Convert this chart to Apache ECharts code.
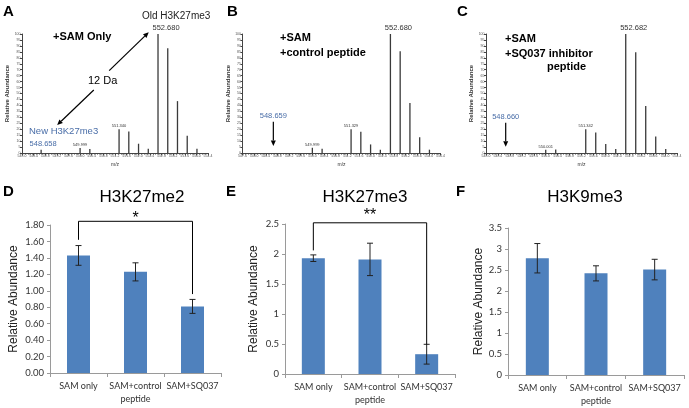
<!DOCTYPE html>
<html>
<head>
<meta charset="utf-8">
<style>html,body{margin:0;padding:0;background:#fff}</style>
</head>
<body>
<div id="chart" style="width:689px;height:408px"></div>
<script src="https://cdn.jsdelivr.net/npm/echarts/dist/echarts.min.js"></script>
<script type="text/javascript">
// ---- mass spectra, [m/z, relative abundance] ----
let specA = [[548.658,2.8],[549.999,4.2],[550.334,3.3],[551.340,20],[551.675,18],[552.010,7.8],[552.345,3.6],[552.680,100],[553.015,88],[553.350,43.6],[553.685,14.4],[554.020,3.6]]
let specB = [[549.999,4.4],[550.334,3.6],[551.329,20],[551.664,17.8],[551.999,7.2],[552.334,2.8],[552.680,100],[553.015,85.5],[553.350,42],[553.685,13.3],[554.020,2.8]]
let specC = [[550.001,2.8],[550.336,3],[551.342,20],[551.677,17.2],[552.012,7.5],[552.347,3.3],[552.682,100],[553.017,84.7],[553.352,39.4],[553.687,13.9],[554.022,3.3]]
// which peaks carry an m/z label
let labelsA = [[548.658,'blue'],[549.999,'small'],[551.340,'small'],[552.680,'main']]
let labelsB = [[549.999,'small'],[551.329,'small'],[552.680,'main']]
let labelsC = [[550.001,'small'],[551.342,'small'],[552.682,'main']]
// arrows: [head, tail, text]
let arrowsA = [[[552.36,101.4],[551.0,69.2]], [[549.21,23.5],[550.47,52.9]]]
let arrowsB = [[[548.659,5.9],[548.659,26.3],'548.659']]
let arrowsC = [[[548.660,5.3],[548.660,25.5],'548.660']]

// ---- quantification ----
let cats = ['SAM only', 'SAM+control\npeptide', 'SAM+SQ037']
let me2 = [1.43, 1.23, 0.81]
let me2Err = [0.12, 0.11, 0.085]
let k27me3 = [1.93, 1.91, 0.33]
let k27me3Err = [0.055, 0.27, 0.165]
let k9me3 = [2.78, 2.42, 2.51]
let k9me3Err = [0.35, 0.18, 0.245]
let bracketD = [[0,1.62],[0,1.845],[2,1.845],[2,0.96]]
let bracketE = [[0,2.06],[0,2.52],[2,2.52],[2,0.49]]

let blue = '#4a6ea8'
let barBlue = '#4f81bd'
let arial = 'Liberation Sans, Arial, sans-serif'
let lato = 'Lato, sans-serif'

var myChart = echarts.init(document.getElementById('chart'))

let labelStyles = {
    main: {fontSize: 7.5, color: '#333', offset: [8, 0], distance: 2},
    small: {fontSize: 4, color: '#333', distance: 1},
    blue: {fontSize: 7.5, color: blue, offset: [2, 0], distance: 2}
}

function specSeries(idx, peaks, labels) {
    let data = peaks.map(p => {
        let lab = labels.find(l => l[0] === p[0])
        let item = {value: p}
        if (lab) {
            item.label = Object.assign({show: true, position: 'top', fontFamily: arial,
                formatter: p[0].toFixed(3)}, labelStyles[lab[1]])
        }
        return item
    })
    return {type: 'bar', xAxisIndex: idx, yAxisIndex: idx, data: data, barWidth: 1.3,
        itemStyle: {color: '#3a3a3a'}, silent: true}
}

function arrowSeries(idx, arrows) {
    return {type: 'custom', xAxisIndex: idx, yAxisIndex: idx, silent: true, z: 10,
        data: arrows.map(a => [a[0][0], a[0][1]]),
        renderItem: function (params, api) {
            let a = arrows[params.dataIndex]
            let h = api.coord(a[0]), t = api.coord(a[1])
            let dx = h[0] - t[0], dy = h[1] - t[1]
            let len = Math.hypot(dx, dy), ux = dx / len, uy = dy / len
            let L = 5.5, W = 2.5
            let bx = h[0] - ux * L, by = h[1] - uy * L
            let children = [
                {type: 'line', shape: {x1: t[0], y1: t[1], x2: bx, y2: by}, style: {stroke: '#000', lineWidth: 1.2}},
                {type: 'polygon', shape: {points: [h, [bx - uy * W, by + ux * W], [bx + uy * W, by - ux * W]]}, style: {fill: '#000'}}
            ]
            if (a[2]) children.push({type: 'text', x: t[0], y: t[1] - 2,
                style: {text: a[2], fill: blue, fontSize: 7.5, fontFamily: arial, align: 'center', verticalAlign: 'bottom'}})
            return {type: 'group', children: children}
        }}
}

function errSeries(idx, vals, errs) {
    return {type: 'custom', xAxisIndex: idx, yAxisIndex: idx, silent: true, z: 5,
        data: vals.map((v, i) => [i, v, errs[i]]),
        renderItem: function (params, api) {
            let x = api.value(0), v = api.value(1), e = api.value(2)
            let hi = api.coord([x, v + e]), lo = api.coord([x, v - e])
            let w = 3, st = {stroke: '#222', lineWidth: 1}
            return {type: 'group', children: [
                {type: 'line', shape: {x1: hi[0], y1: hi[1], x2: lo[0], y2: lo[1]}, style: st},
                {type: 'line', shape: {x1: hi[0] - w, y1: hi[1], x2: hi[0] + w, y2: hi[1]}, style: st},
                {type: 'line', shape: {x1: lo[0] - w, y1: lo[1], x2: lo[0] + w, y2: lo[1]}, style: st}
            ]}
        }}
}

function bracketSeries(idx, pts, star, starY) {
    return {type: 'custom', xAxisIndex: idx, yAxisIndex: idx, silent: true, z: 6,
        data: [[1, starY]],
        renderItem: function (params, api) {
            let p = pts.map(q => api.coord(q))
            let s = api.coord([1, starY])
            return {type: 'group', children: [
                {type: 'polyline', shape: {points: p}, style: {stroke: '#000', lineWidth: 1, fill: null}},
                {type: 'text', x: s[0], y: s[1], style: {text: star, fill: '#000', fontSize: 16,
                    fontFamily: arial, align: 'center', verticalAlign: 'middle'}}
            ]}
        }}
}

function specX(idx, min) {
    return {type: 'value', gridIndex: idx, min: min, max: 554.4, interval: 0.4,
        name: 'm/z', nameLocation: 'middle', nameGap: 9,
        nameTextStyle: {fontSize: 5, color: '#333', fontFamily: arial},
        axisLine: {lineStyle: {color: '#444', width: 1}},
        axisTick: {length: 2.5, lineStyle: {color: '#444'}},
        minorTick: {show: true, splitNumber: 4, length: 1.5, lineStyle: {color: '#444'}},
        splitLine: {show: false},
        axisLabel: {fontSize: 3.5, margin: 1.5, color: '#555', formatter: v => v.toFixed(1)}}
}
function specY(idx) {
    return {type: 'value', gridIndex: idx, min: 0, max: 100, interval: 5,
        name: 'Relative Abundance', nameLocation: 'middle', nameGap: 8,
        nameTextStyle: {fontSize: 6, fontWeight: 'bold', color: '#333', fontFamily: arial},
        axisLine: {show: true, lineStyle: {color: '#444', width: 1}},
        axisTick: {show: true, length: 2, lineStyle: {color: '#444'}},
        splitLine: {show: false},
        axisLabel: {fontSize: 3.5, margin: 1.5, color: '#555'}}
}
function catX(idx) {
    return {type: 'category', gridIndex: idx, data: cats,
        axisLine: {lineStyle: {color: '#9a9a9a'}},
        axisTick: {show: true, length: 4, lineStyle: {color: '#9a9a9a'}},
        axisLabel: {interval: 0, fontSize: 9, fontFamily: lato, color: '#333', margin: 7, lineHeight: 13}}
}
function barY(idx, max, interval, digits, gap) {
    return {type: 'value', gridIndex: idx, min: 0, max: max, interval: interval,
        name: 'Relative Abundance', nameLocation: 'middle', nameGap: gap,
        nameTextStyle: {fontSize: 12, color: '#222', fontFamily: arial},
        axisLine: {show: true, lineStyle: {color: '#9a9a9a'}},
        axisTick: {show: true, length: 3, lineStyle: {color: '#9a9a9a'}},
        splitLine: {show: false},
        axisLabel: {fontSize: 9.5, fontFamily: lato, color: '#333', margin: 6,
            formatter: v => digits ? v.toFixed(digits) : String(v)}}
}
function barSeries(idx, vals) {
    return {type: 'bar', xAxisIndex: idx, yAxisIndex: idx, data: vals, barWidth: 23,
        itemStyle: {color: barBlue}, silent: true}
}

function txt(text, left, top, size, extra) {
    return Object.assign({text: text, left: left, top: top, padding: 0,
        textStyle: Object.assign({fontSize: size, fontFamily: arial, color: '#000', fontWeight: 'normal'}, extra || {})})
}

let option = {
    animation: false,
    backgroundColor: '#fff',
    title: [
        txt('A', 3, 4, 15, {fontWeight: 'bold'}),
        txt('B', 227, 4, 15, {fontWeight: 'bold'}),
        txt('C', 457, 4, 15, {fontWeight: 'bold'}),
        txt('D', 3, 184, 15, {fontWeight: 'bold'}),
        txt('E', 226, 184, 15, {fontWeight: 'bold'}),
        txt('F', 456, 184, 15, {fontWeight: 'bold'}),
        Object.assign(txt('H3K27me2', 142, 189, 17), {textAlign: 'center'}),
        Object.assign(txt('H3K27me3', 365, 189, 17), {textAlign: 'center'}),
        Object.assign(txt('H3K9me3', 585, 189, 17), {textAlign: 'center'}),
        txt('+SAM Only', 53, 31, 11, {fontWeight: 'bold'}),
        txt('Old H3K27me3', 142, 11, 10, {color: '#222'}),
        txt('12 Da', 88, 75, 11),
        txt('New H3K27me3', 29, 126, 9.5, {color: blue}),
        txt('+SAM\n+control peptide', 280, 30, 11, {fontWeight: 'bold', lineHeight: 15}),
        txt('+SAM\n+SQ037 inhibitor', 505, 31, 11, {fontWeight: 'bold', lineHeight: 15}),
        txt('peptide', 547, 61, 11, {fontWeight: 'bold'})
    ],
    grid: [
        {left: 22, top: 34, width: 186, height: 119},
        {left: 242.5, top: 34, width: 198, height: 119},
        {left: 486, top: 34, width: 191, height: 119},
        {left: 50, top: 225, width: 171, height: 148},
        {left: 285, top: 224, width: 170, height: 150},
        {left: 508, top: 228, width: 176, height: 147}
    ],
    xAxis: [specX(0, 548.0), specX(1, 547.6), specX(2, 548.0), catX(3), catX(4), catX(5)],
    yAxis: [specY(0), specY(1), specY(2),
        barY(3, 1.8, 0.2, 2, 30), barY(4, 2.5, 0.5, 0, 25), barY(5, 3.5, 0.5, 0, 22)],
    series: [
        specSeries(0, specA, labelsA),
        specSeries(1, specB, labelsB),
        specSeries(2, specC, labelsC),
        arrowSeries(0, arrowsA),
        arrowSeries(1, arrowsB),
        arrowSeries(2, arrowsC),
        barSeries(3, me2), barSeries(4, k27me3), barSeries(5, k9me3),
        errSeries(3, me2, me2Err), errSeries(4, k27me3, k27me3Err), errSeries(5, k9me3, k9me3Err),
        bracketSeries(3, bracketD, '*', 1.88),
        bracketSeries(4, bracketE, '**', 2.64)
    ]
}
myChart.setOption(option)
</script>
</body>
</html>
